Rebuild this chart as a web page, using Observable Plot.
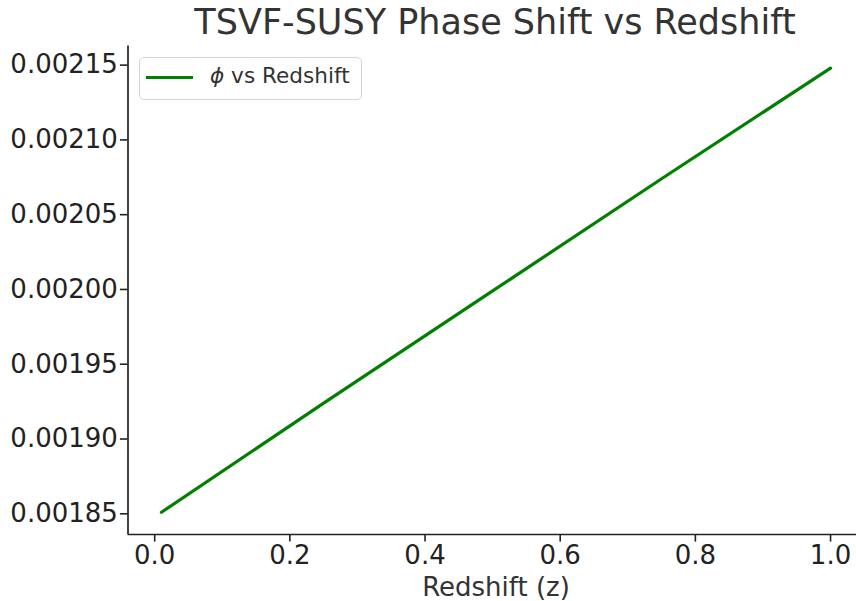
<!DOCTYPE html>
<html>
<head>
<meta charset="utf-8">
<script src="https://cdn.jsdelivr.net/npm/d3@7"></script>
<script src="https://cdn.jsdelivr.net/npm/@observablehq/plot@0.6"></script>
<style>
  html, body { margin: 0; padding: 0; background: #fff; }
  body { width: 856px; height: 601px; position: relative; overflow: hidden; font-family: "DejaVu Sans", sans-serif; }
  #title { width: 856px; height: 45px; line-height: 45px; font-size: 35px; color: #333; text-align: center; padding-left: 134px; box-sizing: border-box; white-space: nowrap; }
  #legend { position: absolute; left: 139px; top: 57px; width: 223px; height: 43px; box-sizing: border-box; border: 1.5px solid #d4d4d4; border-radius: 5px; background: rgba(255,255,255,0.85); }
  #legend .sw { position: absolute; left: 6px; top: 17.5px; width: 47px; height: 3.2px; background: #008000; }
  #legend .lab { position: absolute; left: 70px; top: 3px; font-size: 21.6px; line-height: 30px; color: #333; white-space: nowrap; }
  #chart svg { display: block; }
</style>
</head>
<body>
<div id="title"></div>
<div id="chart"></div>
<div id="legend"><div class="sw"></div><div class="lab"></div></div>
<script>
// Data
const redshift = [0.01, 0.25, 0.5, 0.75, 1.0];
const phase = [0.001851, 0.001924, 0.001999, 0.002074, 0.002148];
const xTicks = [0.0, 0.2, 0.4, 0.6, 0.8, 1.0];
const yTicks = [0.00185, 0.00190, 0.00195, 0.00200, 0.00205, 0.00210, 0.00215];
const titleText = "TSVF-SUSY Phase Shift vs Redshift";
const xLabel = "Redshift (z)";
const seriesLabel = "vs Redshift";
const seriesSymbol = "ϕ";

document.getElementById("title").textContent = titleText;
const lab = document.querySelector("#legend .lab");
const sym = document.createElement("i");
sym.textContent = seriesSymbol;
lab.appendChild(sym);
lab.appendChild(document.createTextNode(" " + seriesLabel));

const data = redshift.map((z, i) => ({z, phi: phase[i]}));

// matplotlib-like 5% margins
const xmin = d3.min(redshift), xmax = d3.max(redshift);
const ymin = d3.min(phase), ymax = d3.max(phase);
const xpad = (xmax - xmin) * 0.05, ypad = (ymax - ymin) * 0.05;
const xDomain = [xmin - xpad, xmax + xpad];
const yDomain = [ymin - ypad, ymax + ypad];

const W = 856, H = 556;
const mL = 127.5, mR = -7.5, mT = 0.4, mB = 67;

const ink = "#222";
const chart = Plot.plot({
  width: W,
  height: H,
  marginLeft: mL,
  marginRight: mR,
  marginTop: mT,
  marginBottom: mB,
  style: { fontFamily: "DejaVu Sans", fontSize: "26px", color: ink, background: "transparent", overflow: "visible" },
  x: { domain: xDomain, range: [mL, W - mR] },
  y: { domain: yDomain, range: [H - mB, mT] },
  marks: [
    Plot.axisY({ ticks: yTicks, tickFormat: d => d.toFixed(5), tickSize: 7.6, tickPadding: 2.5, label: null, stroke: ink, fill: ink, strokeWidth: 1.6 }),
    Plot.axisX({ ticks: xTicks, tickFormat: d => d.toFixed(1), tickSize: 7.6, tickPadding: 3.4, label: null, stroke: ink, fill: ink, strokeWidth: 1.6 }),
    Plot.ruleX([xDomain[0]], { stroke: ink, strokeWidth: 1.7 }),
    Plot.ruleY([yDomain[0]], { stroke: ink, strokeWidth: 1.7 }),
    Plot.line(data, { x: "z", y: "phi", stroke: "#008000", strokeWidth: 3.2 }),
    Plot.text([xLabel], { frameAnchor: "bottom", lineAnchor: "middle", dy: 53.5, text: d => d, fill: "#333", fontSize: 26 })
  ]
});
document.getElementById("chart").appendChild(chart);
</script>
</body>
</html>
